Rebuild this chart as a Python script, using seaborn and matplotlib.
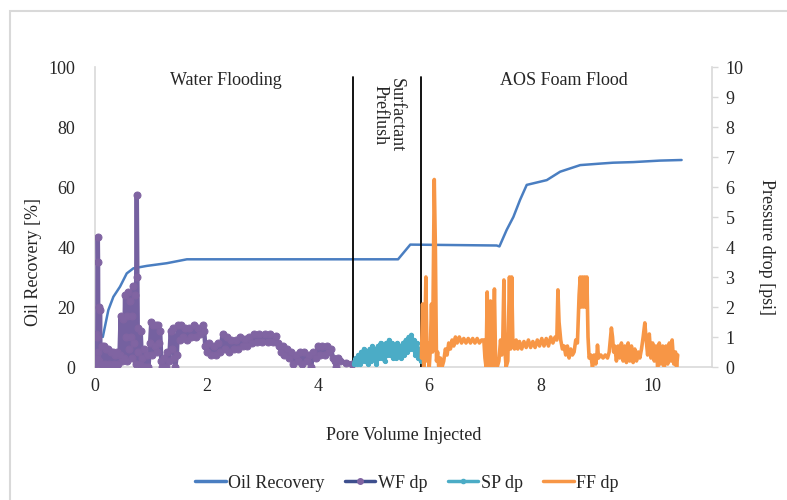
import numpy as np
import pandas as pd
import matplotlib
matplotlib.use("Agg")
import matplotlib.pyplot as plt
import seaborn as sns
from matplotlib.patches import Rectangle
from matplotlib.lines import Line2D

# oil recovery [%] vs pore volume injected
rec_pv = [0.14, 0.24, 0.33, 0.45, 0.57, 0.69, 0.93, 1.29, 1.65, 5.44, 5.66, 7.21, 7.26,
          7.39, 7.51, 7.63, 7.75, 8.11, 8.35, 8.71, 9.07, 9.30, 9.66, 10.14, 10.53]
rec_pct = [10.0, 19.0, 23.4, 26.8, 31.2, 32.9, 33.7, 34.6, 35.9, 35.9, 40.8, 40.5, 40.2,
           45.7, 50.0, 55.7, 60.7, 62.3, 65.1, 67.3, 67.8, 68.1, 68.3, 68.8, 69.0]

# water flooding pressure drop [psi]
wf_pv = [0.00, 0.01, 0.02, 0.03, 0.04, 0.05, 0.055, 0.06, 0.07, 0.08, 0.09, 0.10, 0.12, 0.14,
         0.16, 0.18, 0.20, 0.22, 0.24, 0.26, 0.28, 0.30, 0.32, 0.34, 0.36, 0.38, 0.40, 0.42,
         0.44, 0.46, 0.48, 0.50, 0.52, 0.54, 0.55, 0.57, 0.58, 0.60, 0.61, 0.63, 0.64, 0.66,
         0.67, 0.68, 0.70, 0.72, 0.73, 0.75, 0.76, 0.77, 0.78, 0.80, 0.82, 0.84, 0.86, 0.88,
         0.90, 0.93, 0.96, 0.99, 1.01, 1.03, 1.05, 1.07, 1.09, 1.11, 1.13, 1.15, 1.17, 1.19,
         1.21, 1.24, 1.27, 1.30, 1.33, 1.36, 1.38, 1.40, 1.42, 1.44, 1.47, 1.49, 1.52, 1.55,
         1.58, 1.61, 1.65, 1.69, 1.73, 1.77, 1.81, 1.85, 1.89, 1.93, 1.96, 1.98, 2.01, 2.05,
         2.09, 2.13, 2.17, 2.21, 2.25, 2.29, 2.33, 2.37, 2.41, 2.45, 2.49, 2.53, 2.57, 2.61,
         2.65, 2.69, 2.73, 2.77, 2.81, 2.85, 2.90, 2.95, 3.00, 3.05, 3.10, 3.15, 3.20, 3.25,
         3.28, 3.31, 3.34, 3.37, 3.40, 3.44, 3.48, 3.52, 3.56, 3.60, 3.64, 3.68, 3.72, 3.76,
         3.80, 3.84, 3.88, 3.92, 3.96, 4.00, 4.04, 4.08, 4.12, 4.16, 4.20, 4.24, 4.27, 4.30,
         4.33, 4.36, 4.40, 4.50, 4.62]
wf_dp = [0.2, 1.1, 0.1, 1.0, 0.3, 4.35, 3.5, 0.5, 2.0, 0.2, 1.9, 0.1, 0.7, 0.0,
         0.7, 0.1, 0.6, 0.0, 0.6, 0.1, 0.5, 0.0, 0.5, 0.1, 0.4, 0.0, 0.5, 0.1,
         0.4, 1.7, 0.2, 1.6, 0.3, 2.4, 1.0, 1.7, 0.2, 2.5, 0.6, 2.2, 1.0, 1.7,
         0.3, 2.7, 0.8, 2.4, 0.1, 5.75, 3.0, 0.5, 1.3, 0.1, 1.2, 0.3, 0.0, 0.6,
         0.0, 0.4, 0.0, 0.8, 1.5, 0.4, 1.4, 0.7, 1.4, 0.5, 1.4, 0.8, 1.2, 0.2,
         0.0, 0.3, 0.0, 0.5, 0.2, 1.2, 0.6, 1.3, 0.3, 0.0, 0.4, 1.4, 0.9, 1.4,
         1.0, 1.3, 0.9, 1.3, 1.0, 1.4, 1.0, 1.3, 1.1, 1.4, 1.2, 0.7, 0.5, 0.8,
         0.4, 0.7, 0.4, 0.8, 0.5, 1.1, 0.6, 1.0, 0.5, 0.9, 0.6, 0.9, 0.6, 1.0,
         0.7, 0.95, 0.7, 1.0, 0.8, 1.1, 0.85, 1.1, 0.85, 1.1, 0.85, 1.1, 0.85, 1.05,
         0.8, 0.7, 0.5, 0.7, 0.4, 0.6, 0.3, 0.5, 0.1, 0.4, 0.2, 0.5, 0.1, 0.5,
         0.2, 0.4, 0.0, 0.5, 0.3, 0.7, 0.4, 0.7, 0.4, 0.7, 0.5, 0.6, 0.3, 0.2,
         0.0, 0.3, 0.2, 0.15, 0.1]

# surfactant preflush pressure drop [psi]
sp_pv = [4.65, 4.68, 4.70, 4.73, 4.75, 4.78, 4.80, 4.83, 4.85, 4.88, 4.90, 4.93, 4.95, 4.98,
         5.00, 5.03, 5.05, 5.08, 5.10, 5.13, 5.15, 5.18, 5.20, 5.23, 5.25, 5.28, 5.30, 5.33,
         5.35, 5.38, 5.40, 5.43, 5.45, 5.48, 5.50, 5.53, 5.55, 5.58, 5.60, 5.63, 5.65, 5.68,
         5.70, 5.73, 5.75, 5.78, 5.80, 5.83, 5.85]
sp_dp = [0.1, 0.3, 0.1, 0.4, 0.1, 0.5, 0.2, 0.6, 0.2, 0.5, 0.1, 0.6, 0.2, 0.7,
         0.3, 0.6, 0.1, 0.7, 0.3, 0.8, 0.3, 0.7, 0.2, 0.8, 0.4, 0.9, 0.4, 0.8,
         0.3, 0.7, 0.3, 0.8, 0.4, 0.7, 0.3, 0.8, 0.4, 0.9, 0.5, 1.0, 0.6, 1.07,
         0.6, 0.9, 0.4, 0.8, 0.3, 0.6, 0.2]

# AOS foam flood pressure drop [psi]
ff_pv = [5.86, 5.88, 5.90, 5.92, 5.94, 5.96, 5.98, 6.00, 6.02, 6.04, 6.06, 6.09, 6.11, 6.13,
         6.15, 6.17, 6.20, 6.23, 6.26, 6.29, 6.32, 6.35, 6.38, 6.41, 6.44, 6.47, 6.50, 6.54,
         6.58, 6.62, 6.66, 6.70, 6.74, 6.78, 6.82, 6.86, 6.90, 6.94, 6.98, 7.00, 7.02, 7.04,
         7.06, 7.08, 7.10, 7.12, 7.14, 7.17, 7.19, 7.22, 7.25, 7.28, 7.30, 7.32, 7.34, 7.36,
         7.38, 7.41, 7.44, 7.46, 7.48, 7.50, 7.53, 7.56, 7.59, 7.62, 7.66, 7.70, 7.74, 7.78,
         7.82, 7.86, 7.90, 7.94, 7.98, 8.02, 8.06, 8.10, 8.14, 8.18, 8.22, 8.26, 8.29, 8.31,
         8.33, 8.36, 8.39, 8.42, 8.45, 8.48, 8.51, 8.54, 8.57, 8.60, 8.63, 8.66, 8.69, 8.71,
         8.73, 8.75, 8.77, 8.79, 8.81, 8.83, 8.85, 8.87, 8.90, 8.93, 8.96, 8.99, 9.01, 9.02,
         9.04, 9.08, 9.12, 9.16, 9.20, 9.23, 9.27, 9.29, 9.31, 9.33, 9.36, 9.39, 9.42, 9.45,
         9.48, 9.51, 9.54, 9.57, 9.60, 9.63, 9.66, 9.69, 9.72, 9.75, 9.78, 9.81, 9.84, 9.87,
         9.89, 9.92, 9.95, 9.98, 10.01, 10.04, 10.07, 10.10, 10.13, 10.16, 10.19, 10.22, 10.25,
         10.28, 10.31, 10.34, 10.36, 10.39, 10.42, 10.44, 10.46]
ff_dp = [0.3, 2.1, 0.0, 1.0, 3.0, 0.2, 0.8, 0.0, 0.6, 2.1, 0.5, 6.25, 4.0, 0.2,
         0.5, 0.0, 0.3, 0.0, 0.2, 0.6, 0.4, 0.8, 0.6, 0.9, 0.7, 1.0, 0.8, 1.0,
         0.8, 0.95, 0.8, 0.95, 0.8, 0.95, 0.8, 0.95, 0.8, 0.9, 0.9, 0.3, 0.0, 2.5,
         0.9, 0.0, 2.2, 0.5, 0.0, 2.6, 0.3, 0.0, 0.2, 0.9, 0.4, 0.9, 2.9, 0.5,
         0.0, 0.2, 3.0, 0.6, 3.0, 0.9, 0.6, 0.9, 0.6, 0.85, 0.6, 0.85, 0.65, 0.9,
         0.65, 0.85, 0.65, 0.9, 0.7, 0.95, 0.7, 0.95, 0.7, 1.0, 0.8, 1.0, 0.9, 2.57,
         1.5, 0.9, 0.6, 0.7, 0.4, 0.7, 0.3, 0.6, 0.4, 0.5, 0.9, 0.8, 2.4, 3.0,
         2.0, 3.0, 2.0, 3.0, 2.0, 3.0, 1.0, 0.3, 0.4, 0.0, 0.4, 0.1, 0.4, 0.73,
         0.3, 0.4, 0.3, 0.4, 0.3, 0.5, 1.3, 1.0, 0.5, 0.7, 0.2, 0.7, 0.3, 0.8,
         0.2, 0.7, 0.15, 0.8, 0.2, 0.7, 0.15, 0.6, 0.2, 0.5, 0.3, 0.6, 1.0, 1.47,
         1.0, 0.4, 1.1, 0.3, 0.8, 0.2, 0.7, 0.0, 0.8, 0.1, 0.7, 0.0, 0.7,
         0.1, 0.8, 0.2, 0.9, 0.1, 0.5, 0.0, 0.4]

phase_bounds = [4.63, 5.85]
phase_labels = ["Water Flooding", "Surfactant\nPreflush", "AOS Foam Flood"]
series_names = ['Oil Recovery', 'WF dp', 'SP dp', 'FF dp']

sns.set_style("white")
plt.rcParams['font.family'] = ['Liberation Serif', 'DejaVu Serif']
plt.rcParams['font.size'] = 13

fig = plt.figure(figsize=(7.87, 5.0), dpi=100)
ax = fig.add_axes([0.1207, 0.266, 0.7836, 0.6])
ax2 = ax.twinx()

grey = '#D9D9D9'
c_rec = '#4A7EC1'
c_wf = '#3E4F8E'
c_wfm = '#8064A2'
c_sp = '#4BACC6'
c_ff = '#F79646'

sns.lineplot(x=rec_pv, y=rec_pct, ax=ax, color=c_rec, lw=1.8, sort=False,
             estimator=None, legend=False)
sns.lineplot(x=wf_pv, y=wf_dp, ax=ax2, color='#7561A0', lw=3.2, sort=False, estimator=None,
             marker='o', markersize=5, markerfacecolor=c_wfm, markeredgecolor=c_wfm,
             legend=False)
sns.lineplot(x=sp_pv, y=sp_dp, ax=ax2, color=c_sp, lw=3.2, sort=False, estimator=None,
             marker='o', markersize=3, markerfacecolor=c_sp, markeredgecolor=c_sp,
             legend=False)
sns.lineplot(x=ff_pv, y=ff_dp, ax=ax2, color=c_ff, lw=2.6, sort=False, estimator=None,
             legend=False)

# phase boundaries
for b in phase_bounds:
    ax.plot([b, b], [0, 96.7], color='black', lw=1.3, zorder=5)

ax.text(2.35, 95.5, phase_labels[0], ha='center', va='center', fontsize=13)
ax.text(5.26, 96.3, phase_labels[1], ha='center', va='top', rotation=-90, fontsize=13,
        linespacing=1.0)
ax.text(8.42, 95.5, phase_labels[2], ha='center', va='center', fontsize=13)

ax.set_xlim(0, 11.07)
ax.set_ylim(0, 100)
ax2.set_ylim(0, 10)
ax.set_xticks([0, 2, 4, 6, 8, 10])
ax.set_yticks([0, 20, 40, 60, 80, 100])
ax2.set_yticks(range(0, 11))

for a in (ax, ax2):
    for s in a.spines.values():
        s.set_visible(False)
ax.spines['left'].set_visible(True)
ax.spines['bottom'].set_visible(True)
ax2.spines['right'].set_visible(True)
for s in (ax.spines['left'], ax.spines['bottom'], ax2.spines['right']):
    s.set_color(grey)
    s.set_linewidth(1.2)

ax.tick_params(axis='y', length=0, pad=14, labelsize=13)
ax.tick_params(axis='x', length=0, pad=8, labelsize=13)
ax2.tick_params(axis='y', length=4, width=1, color=grey, pad=6, labelsize=13)

ax.set_xlabel('Pore Volume Injected', fontsize=13)
ax.xaxis.set_label_coords(0.5, -0.2)
ax.set_ylabel('Oil Recovery [%]', fontsize=13)
ax.yaxis.set_label_coords(-0.086, 0.35)
ax2.set_ylabel('Pressure drop [psi]', fontsize=13, rotation=-90, va='center')
ax2.yaxis.set_label_coords(1.089, 0.4)

handles = [Line2D([], [], color=c_rec, lw=2.5),
           Line2D([], [], color=c_wf, lw=2.5, marker='o', markersize=4,
                  markerfacecolor=c_wfm, markeredgecolor=c_wfm),
           Line2D([], [], color=c_sp, lw=2.5, marker='o', markersize=3),
           Line2D([], [], color=c_ff, lw=2.5)]
fig.legend(handles, series_names, loc='center',
           bbox_to_anchor=(0.517, 0.034), ncol=4, frameon=False, fontsize=13,
           handlelength=1.7, handletextpad=0.15, columnspacing=1.1)

# chart area border
fig.patches.append(Rectangle((10 / 787, -0.1), 1.2, 1 - 11 / 500 + 0.1,
                             transform=fig.transFigure, fill=False,
                             edgecolor=grey, lw=1.5))

fig.savefig('out.png', dpi=100)
